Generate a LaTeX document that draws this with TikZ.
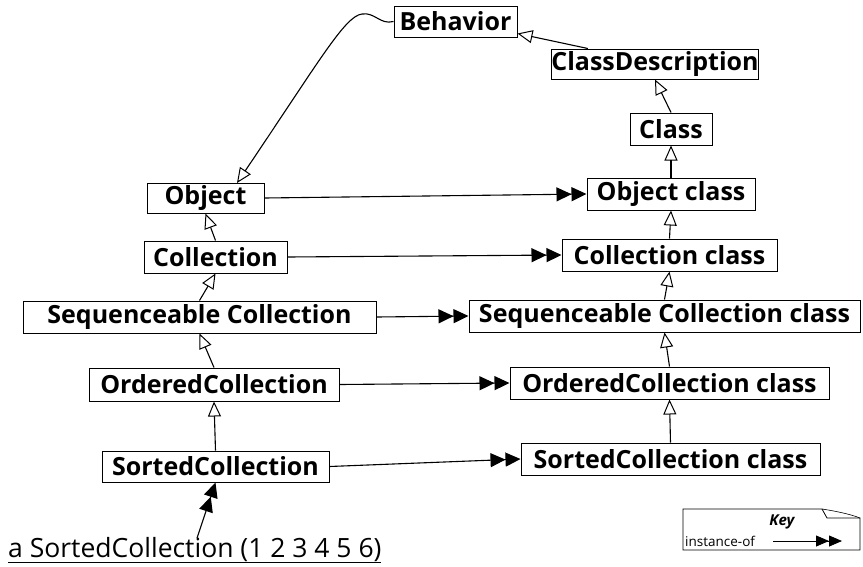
\documentclass[tikz,border=0pt]{standalone}
\usepackage{fontspec}
\setmainfont{Open Sans}
\usetikzlibrary{arrows.meta}
\begin{document}
\begin{tikzpicture}[x=1pt,y=-1pt,
  cls/.style={draw,line width=1pt,inner sep=0pt,font=\bfseries\fontsize{25}{28}\selectfont},
  gen/.style={-{Triangle[open,length=15pt,width=13pt,line width=1pt]},line width=1.1pt},
  inst/.style={-{Triangle[length=15pt,width=14pt]Triangle[length=15pt,width=14pt]},line width=1.1pt}]
\useasboundingbox (0,0) rectangle (863,566);
\node[cls,minimum width=123pt,minimum height=31pt] (beh) at (455.5,21.5) {Behavior};
\node[cls,minimum width=204pt,minimum height=30pt] (cd) at (655,64) {ClassDescription};
\node[cls,minimum width=82pt,minimum height=32pt] (cl) at (671,129) {Class};
\node[cls,minimum width=117pt,minimum height=30pt] (ob) at (205.5,198) {Object};
\node[cls,minimum width=168pt,minimum height=32pt] (obc) at (671,194) {Object class};
\node[cls,minimum width=143pt,minimum height=32pt] (co) at (215.5,257) {Collection};
\node[cls,minimum width=215pt,minimum height=32pt] (coc) at (669.5,255) {Collection class};
\node[cls,minimum width=353pt,minimum height=32pt] (sq) at (199.5,317) {Sequenceable Collection};
\node[cls,minimum width=391pt,minimum height=32pt] (sqc) at (664.5,316) {Sequenceable Collection class};
\node[cls,minimum width=250pt,minimum height=33pt] (oc) at (214,384.5) {OrderedCollection};
\node[cls,minimum width=319pt,minimum height=32pt] (occ) at (669.5,383) {OrderedCollection class};
\node[cls,minimum width=227pt,minimum height=31pt] (so) at (215.5,466.5) {SortedCollection};
\node[cls,minimum width=299pt,minimum height=32pt] (soc) at (670.5,459) {SortedCollection class};
\node[anchor=base west,inner sep=0pt,font=\fontsize{26.5}{30}\selectfont] (inst) at (8,557) {\underline{a SortedCollection (1 2 3 4 5 6)}};
% generalization
\draw[gen] (cl.north) -- (cd.south);
\draw[gen] (obc.north) -- (cl.south);
\draw[gen] (coc.north) -- (obc.south);
\draw[gen] (sqc.north) -- (coc.south);
\draw[gen] (occ.north) -- (sqc.south);
\draw[gen] (soc.north) -- (occ.south);
\draw[gen] (co.north) -- (ob.south);
\draw[gen] (sq.north) -- (co.south);
\draw[gen] (oc.north) -- (sq.south);
\draw[gen] (so.north) -- (oc.south);
\coordinate (cdw) at ([xshift=37pt]cd.north west);
\coordinate (behse) at ([yshift=4pt]beh.south east);
\draw[gen] (cdw) -- (behse);
\draw[gen] (beh.west) .. controls (380,25) and (375,12) .. (362,14) .. controls (345,16) and (320,60) .. (237,183);
% instance-of
\draw[inst] (ob.east) -- (obc.west);
\draw[inst] (co.east) -- (coc.west);
\draw[inst] (sq.east) -- (sqc.west);
\draw[inst] (oc.east) -- (occ.west);
\draw[inst] (so.east) -- (soc.west);
\coordinate (ist) at (197,538);
\draw[inst] (ist) -- (so.south);
% key
\draw[line width=0.8pt] (683,509) -- (822,509) -- (827,518) -- (860,518) -- (860,550) -- (683,550) -- cycle;
\draw[line width=0.6pt] (822,509) .. controls (835,511) and (850,514) .. (860,518);
\node[font=\bfseries\itshape\fontsize{15}{17}\selectfont] (key) at (782,522) {Key};
\node[anchor=base west,inner sep=0pt,font=\fontsize{13.5}{15}\selectfont] (kl) at (685,546) {instance-of};
\coordinate (ka) at (773,541);
\coordinate (kb) at (842,541);
\draw[-{Triangle[length=13pt,width=11pt]Triangle[length=13pt,width=11pt]},line width=0.8pt] (ka) -- (kb);
\end{tikzpicture}
\end{document}
